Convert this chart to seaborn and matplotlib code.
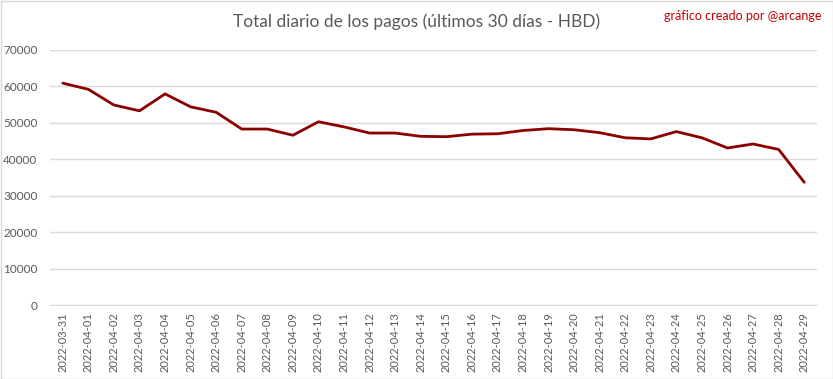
import matplotlib
matplotlib.use("Agg")
import matplotlib.pyplot as plt
import seaborn as sns
import pandas as pd
from matplotlib.patches import Rectangle

dates = ["2022-03-31", "2022-04-01", "2022-04-02", "2022-04-03", "2022-04-04",
         "2022-04-05", "2022-04-06", "2022-04-07", "2022-04-08", "2022-04-09",
         "2022-04-10", "2022-04-11", "2022-04-12", "2022-04-13", "2022-04-14",
         "2022-04-15", "2022-04-16", "2022-04-17", "2022-04-18", "2022-04-19",
         "2022-04-20", "2022-04-21", "2022-04-22", "2022-04-23", "2022-04-24",
         "2022-04-25", "2022-04-26", "2022-04-27", "2022-04-28", "2022-04-29"]
values = [60900, 59200, 54900, 53300, 57950, 54400, 52900, 48300, 48300, 46600,
          50300, 48900, 47200, 47200, 46300, 46200, 46900, 47000, 47900, 48400,
          48100, 47300, 45900, 45600, 47600, 45900, 43100, 44200, 42700, 33700]
yticks = [0, 10000, 20000, 30000, 40000, 50000, 60000, 70000]

title = "Total diario de los pagos (últimos 30 días - HBD)"
credit = "gráfico creado por @arcange"

sns.set_style("white")
plt.rcParams['font.family'] = ['Lato', 'DejaVu Sans']

W, H = 833, 379
fig = plt.figure(figsize=(W / 100, H / 100), dpi=100)
ax = fig.add_axes([50 / W, 1 - 305 / H, (817 - 50) / W, (305 - 50) / H])

df = pd.DataFrame({"fecha": dates, "total": values})
sns.lineplot(data=df, x="fecha", y="total", ax=ax, color="#8B0000",
             linewidth=2.0, sort=False)

ax.set_xlim(-0.5, len(dates) - 0.5)
ax.set_ylim(0, 70000)
ax.set_yticks(yticks)
ax.set_yticklabels([str(v) for v in yticks])
ax.set_xticks(range(len(dates)))
ax.set_xticklabels(dates, rotation=90)
ax.tick_params(axis="x", labelsize=8, colors="#595959", length=0, pad=5)
ax.tick_params(axis="y", labelsize=8.5, colors="#595959", length=0, pad=9)
ax.grid(axis="y", color="#D9D9D9", linewidth=1)
ax.set_axisbelow(True)
for s in ["top", "right", "left"]:
    ax.spines[s].set_visible(False)
ax.spines["bottom"].set_color("#D9D9D9")
ax.set_xlabel("")
ax.set_ylabel("")

fig.text(417 / W, 1 - 22 / H, title, ha="center", va="center",
         fontsize=12.5, color="#595959")
fig.text(822 / W, 1 - 16 / H, credit, ha="right", va="center",
         fontsize=9, color="#C00000")

fig.patches.append(Rectangle((0.5 / W, 0.5 / H), 1 - 1 / W, 1 - 1 / H,
                             transform=fig.transFigure, fill=False,
                             edgecolor="#D9D9D9", linewidth=1))

fig.savefig("out.png", dpi=100)
